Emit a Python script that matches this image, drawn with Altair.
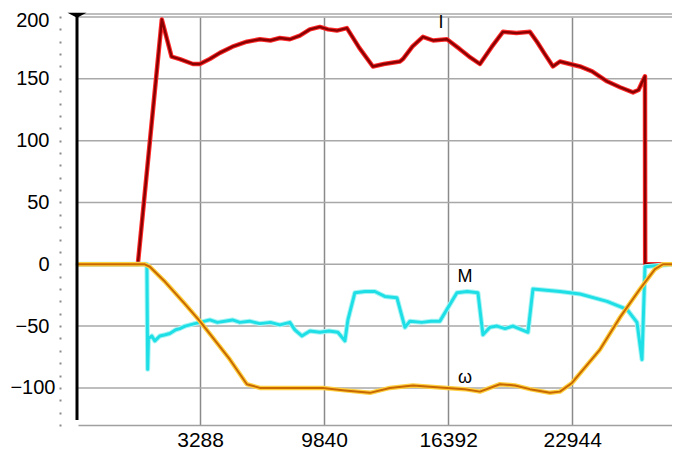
import altair as alt
import pandas as pd

X_TICKS = [3288, 9840, 16392, 22944]
Y_GRID = [-100, -50, 0, 50, 100, 150, 200]
Y_TICKS = list(range(-130, 201, 10))

I_X = [-3160, 0, 1268, 1781, 2219, 2906, 3276, 3800, 4333, 5000, 5760, 6446, 7000, 7500, 8032,
       8560, 9088, 9617, 10050, 10515, 11044, 11700, 12417, 13000, 13844, 14003, 14500, 15059,
       15600, 16328, 17014, 17500, 18071, 18700, 19287, 20000, 20713, 21083, 21500, 21929, 22298,
       23355, 24000, 24782, 25500, 26156, 26450, 26631, 26790, 26800, 27741]
I_Y = [0, 0, 198, 168, 166, 162, 162, 166, 171, 176, 180, 182, 181, 183, 182,
       185, 190, 192, 190, 189, 191, 175, 160, 162, 164, 166, 176, 184,
       181, 182, 174, 168, 162, 176, 188, 187, 188, 180, 170, 160, 164,
       160, 156, 148, 143, 139, 141, 147, 152, 0, 0]

M_X = [-3160, 470, 480, 520, 560, 740, 898, 1162, 1450, 1691, 2000, 2219, 2500, 2748, 3000, 3276,
       3804, 4200, 4597, 5000, 5390, 5900, 6446, 7000, 7503, 8032, 8296, 8666, 9088, 9617, 10100,
       10568, 10938, 11097, 11466, 12000, 12523, 13051, 13685, 14109, 14373, 15000, 15500, 15957,
       16856, 17400, 17966, 18230, 18600, 18970, 19400, 19816, 20608, 20872, 22298, 23355,
       24782, 25839, 26367, 26631, 26790, 28217]
M_Y = [0, 0, -2, -85, -60, -58, -62, -58, -57, -56, -53, -52, -50, -49, -48, -47,
       -45, -47, -46, -45, -47, -46, -48, -47, -49, -47, -53, -58, -54, -55, -54,
       -55, -62, -45, -23, -22, -22, -26, -27, -51, -46, -47, -46, -46,
       -23, -22, -23, -57, -51, -50, -52, -50, -55, -20, -22, -24,
       -30, -36.5, -47, -77, -2, 0]

W_X = [-3160, 370, 634, 1427, 2483, 3276, 4861, 5760, 6446, 8032, 9775, 10938, 12259, 13315,
       14531, 15430, 16328, 17279, 18071, 19128, 19921, 20713, 21770, 22298, 22932, 24411,
       25468, 26525, 27318, 27741, 28217]
W_Y = [0, 0, -2, -14, -32, -46, -77, -97, -100, -100, -100, -102, -104, -100,
       -98, -99, -100, -101, -103, -97, -98, -101, -104, -103, -96, -69,
       -43, -20, -4, 0, 0]

LABELS = ["I", "M", "ω"]
LABEL_X = [16010, 17279, 17279]
LABEL_Y = [195, -10, -92]

FONT = "Liberation Sans"
xs = alt.Scale(domain=[-3160, 28217], nice=False, zero=False)
ys = alt.Scale(domain=[-130, 200], nice=False, zero=False)

XA = alt.Axis(values=X_TICKS, format="d", grid=True, gridColor="#8a8a8a", gridWidth=1.5,
              ticks=False, domain=True, domainColor="#a0a0a0", domainWidth=1.5, labelFont=FONT,
              labelFontSize=21, labelPadding=4, labelColor="black", title=None,
              labelFlush=False, labelOverlap=False)
YA = alt.Axis(values=Y_TICKS, labelExpr="datum.value % 50 === 0 ? datum.label : ''",
              offset=17, domain=False, grid=False, tickSize=2, tickWidth=2,
              tickColor="#8a8a8a", labelFont=FONT, labelFontSize=20, labelColor="black",
              labelPadding={"condition": {"test": "datum.value === -100", "value": 4}, "value": 10},
              title=None, labelOverlap=False,
              labelOffset={"condition": {"test": "datum.value === 200", "value": 3}, "value": 0})


def frame(xv, yv):
    return pd.DataFrame({"x": xv, "y": yv, "i": list(range(len(xv)))})


dI, dM, dW = frame(I_X, I_Y), frame(M_X, M_Y), frame(W_X, W_Y)


def line(df, color, width):
    return alt.Chart(df).mark_line(color=color, strokeWidth=width, strokeJoin="round",
                                   strokeCap="round").encode(
        x=alt.X("x:Q", scale=xs, axis=XA),
        y=alt.Y("y:Q", scale=ys, axis=YA),
        order="i:Q",
    )


grid = alt.Chart(pd.DataFrame({"g": Y_GRID})).mark_rule(color="#a8a8a8", strokeWidth=1.5).encode(
    y=alt.Y("g:Q", scale=ys, axis=YA))
topline = alt.Chart(pd.DataFrame({"g": [0]})).mark_rule(color="#a8a8a8", strokeWidth=1.5).encode(
    x=alt.value(0), x2=alt.value(594), y=alt.value(-3))

texts = alt.Chart(pd.DataFrame({"t": LABELS, "x": LABEL_X, "y": LABEL_Y})).mark_text(
    font=FONT, fontSize=18, color="black").encode(
    x=alt.X("x:Q", scale=xs, axis=XA), y=alt.Y("y:Q", scale=ys, axis=YA), text="t:N")

vline = alt.Chart(pd.DataFrame({"g": [0]})).mark_rule(color="black", strokeWidth=3).encode(
    x=alt.value(-1), y=alt.value(-2), y2=alt.value(403))
marker = alt.Chart(pd.DataFrame({"g": [0]})).mark_point(
    shape="M-1,-0.25L1,-0.25L0,0.3Z", filled=True, color="black", size=360, opacity=1).encode(
    x=alt.value(-1), y=alt.value(-2))

chart = alt.layer(
    grid, topline,
    line(dI, "#ff2a2a", 4.5), line(dI, "#8a0000", 2.4),
    line(dM, "#a8f4f4", 5), line(dM, "#1fdfe6", 3),
    line(dW, "#ffd040", 4.5), line(dW, "#c86800", 2),
    texts, vline, marker,
).properties(
    width=594, height=408,
    autosize=alt.AutoSizeParams(type="none"),
    padding={"left": 70, "top": 9, "right": 0, "bottom": 27},
).configure_view(stroke=None)

chart.save("out.html", embed_options={"renderer": "svg", "actions": False})
